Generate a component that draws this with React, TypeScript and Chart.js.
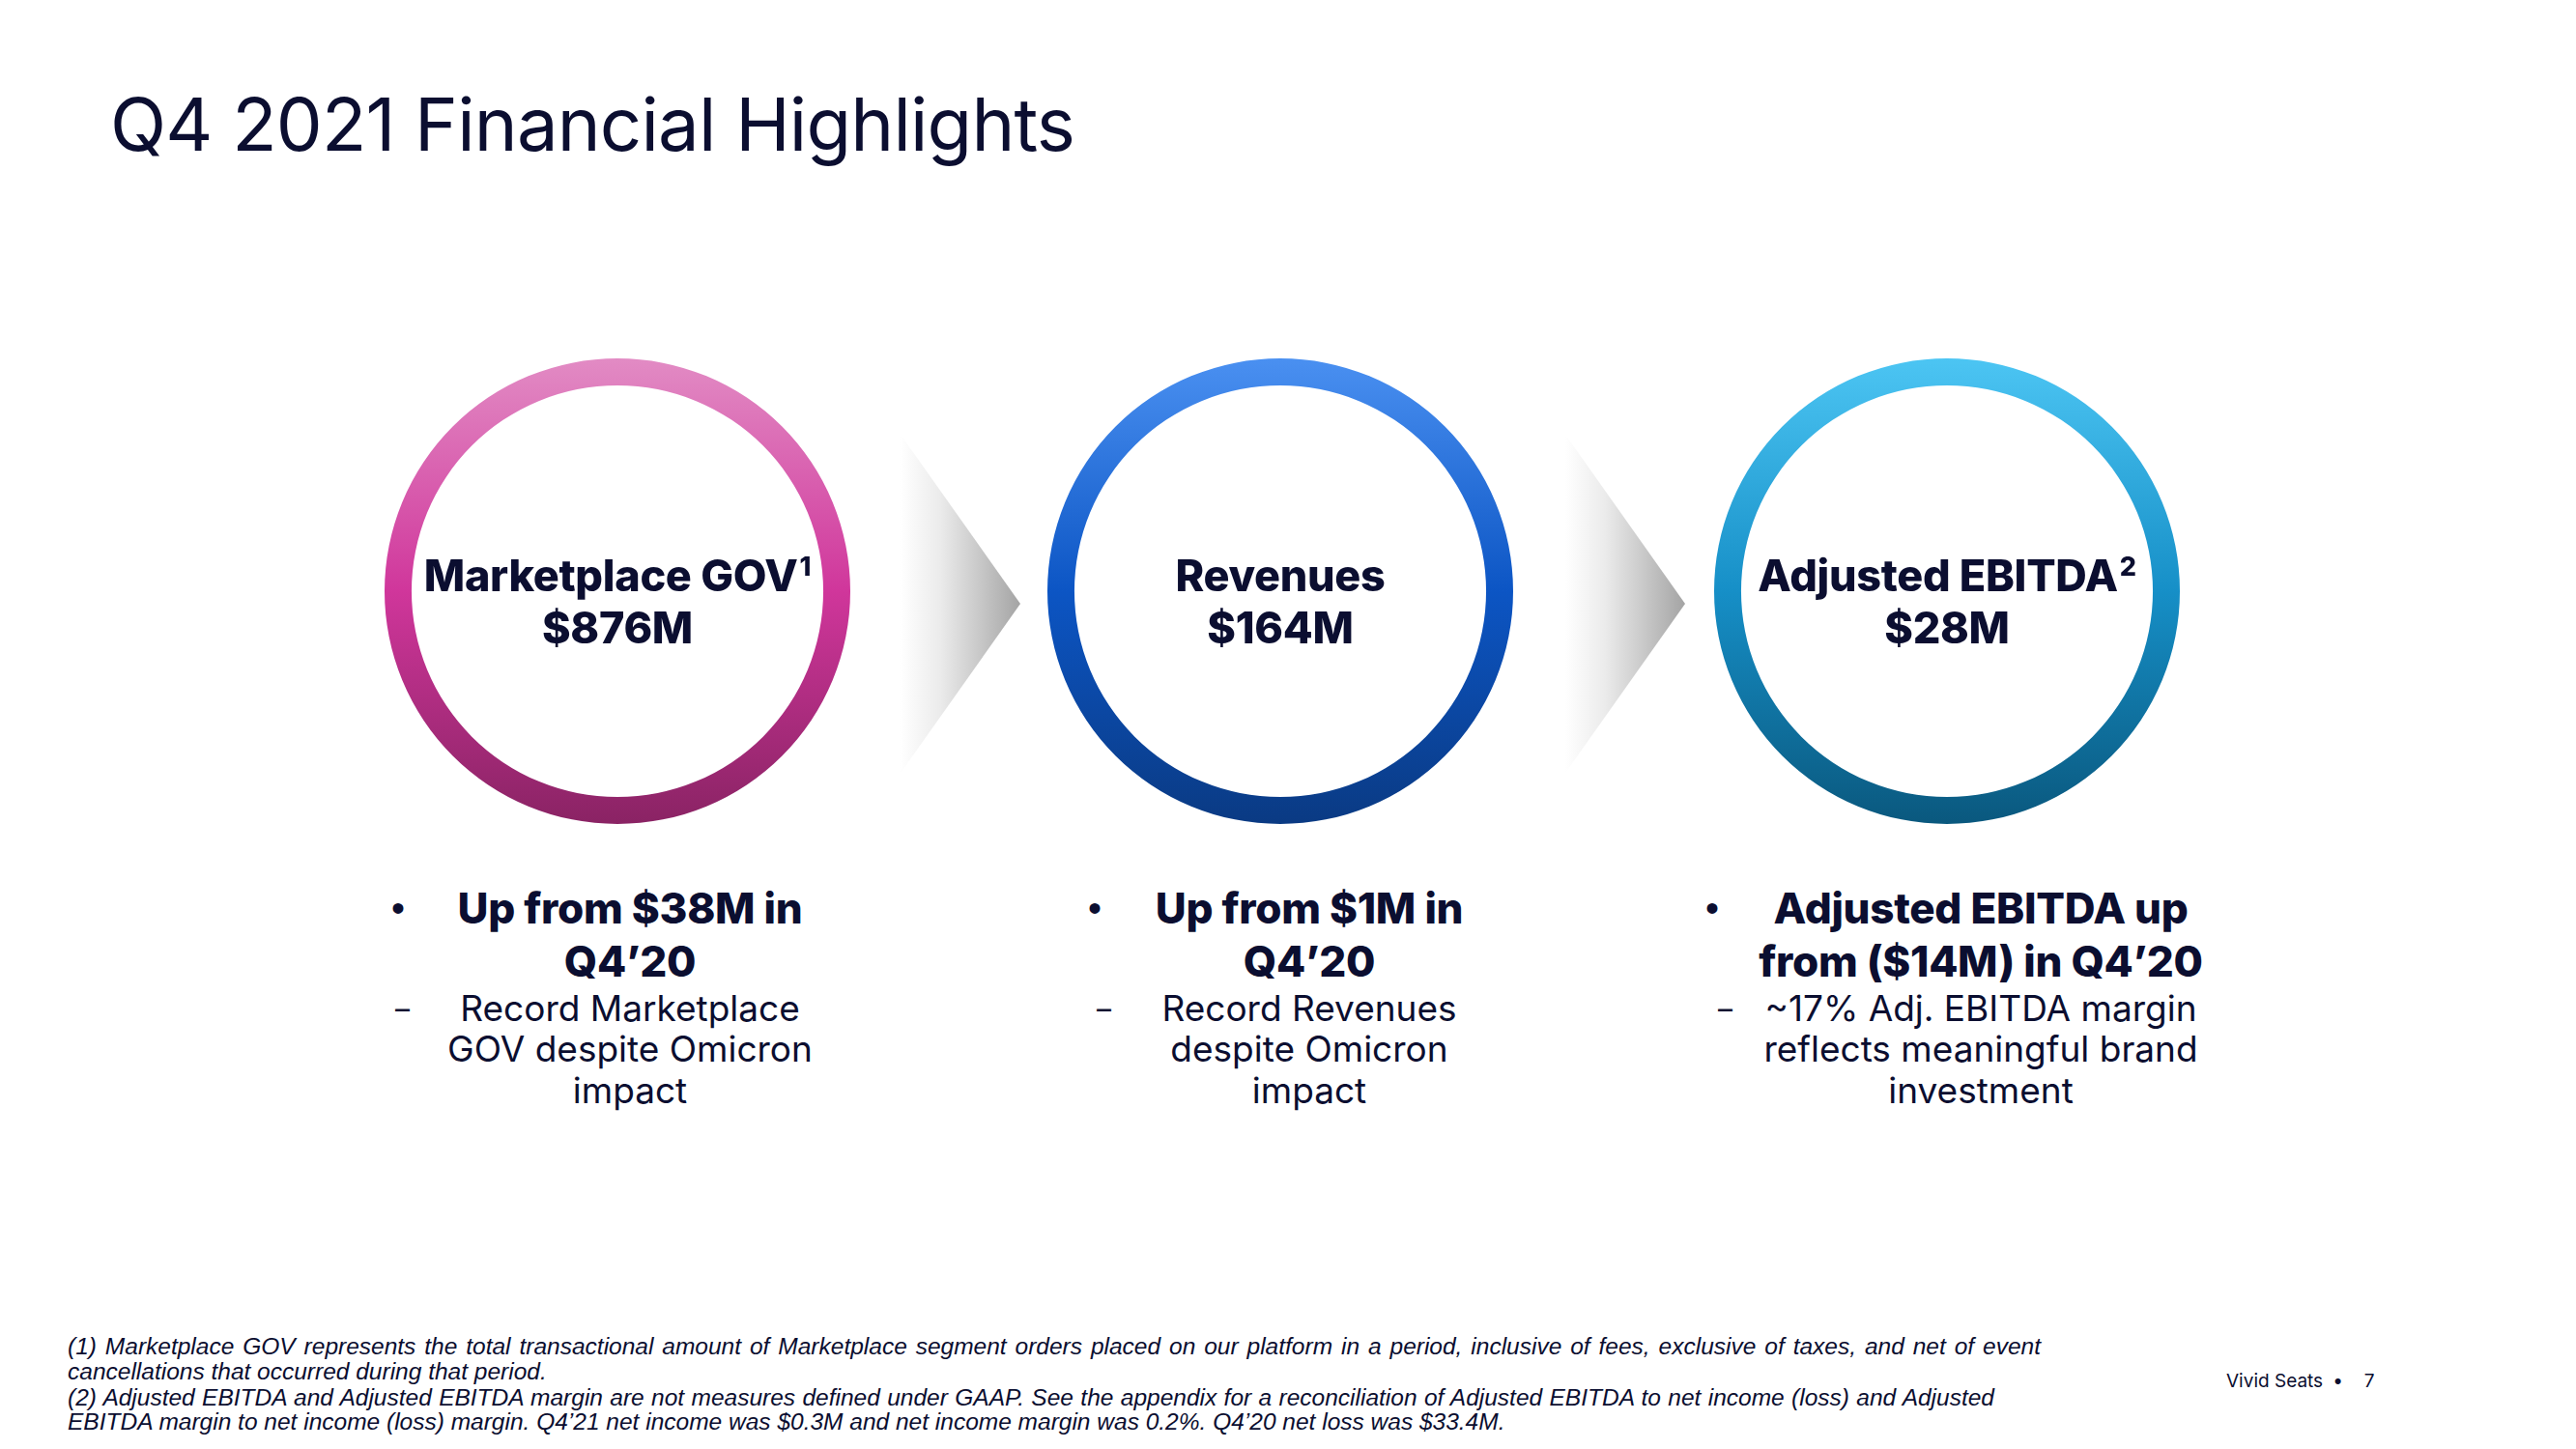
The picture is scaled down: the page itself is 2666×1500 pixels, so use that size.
import React, { useEffect, useRef } from "react";
import { Chart, registerables } from "chart.js";

Chart.register(...registerables);

const titleText = "Q4 2021 Financial Highlights";
const ringLabels = ["Marketplace GOV", "Revenues", "Adjusted EBITDA"];
const ringNotes = ["1", "", "2"];
const ringValues = [876, 164, 28];
const ringValueLabels = ["$876M", "$164M", "$28M"];
const ringGradients = [
  ["#e28bc4", "#d0369b", "#8a2364"],
  ["#4a90f1", "#0c55c4", "#0a3a83"],
  ["#4cc5f3", "#168fc7", "#0a587e"],
];
const bulletHeads = [
  ["Up from $38M in", "Q4’20"],
  ["Up from $1M in", "Q4’20"],
  ["Adjusted EBITDA up", "from ($14M) in Q4’20"],
];
const bulletSubs = [
  ["Record Marketplace", "GOV despite Omicron", "impact"],
  ["Record Revenues", "despite Omicron", "impact"],
  ["~17% Adj. EBITDA margin", "reflects meaningful brand", "investment"],
];
const footnoteLines = [
  "(1) Marketplace GOV represents the total transactional amount of Marketplace segment orders placed on our platform in a period, inclusive of fees, exclusive of taxes, and net of event",
  "cancellations that occurred during that period.",
  "(2) Adjusted EBITDA and Adjusted EBITDA margin are not measures defined under GAAP. See the appendix for a reconciliation of Adjusted EBITDA to net income (loss) and Adjusted",
  "EBITDA margin to net income (loss) margin. Q4’21 net income was $0.3M and net income margin was 0.2%. Q4’20 net loss was $33.4M.",
];
const footerBrand = "Vivid Seats";
const footerPage = "7";

const NAVY = "#0b0e30";
const RING_CX = [639, 1325, 2015];
const RING_CY = 612;
const RING_R = 241;
const COL_CX = [652, 1355, 2050];
const BULLET_X = [417, 1138, 1777];
const DASH_X = [418, 1144, 1787];
const ARROW_X = [918, 1606];
const BOLD_FONT = 'Inter, "Open Sans", sans-serif';
const FOOT_TOPS = [1394, 1420, 1447, 1472];
const FOOT_WIDTHS = [2042, 0, 1994, 0];

function Ring({ idx }: { idx: number }) {
  const ref = useRef<HTMLCanvasElement>(null);
  useEffect(() => {
    if (!ref.current) return;
    const stops = ringGradients[idx];
    const chart = new Chart(ref.current, {
      type: "doughnut",
      data: {
        labels: [ringLabels[idx]],
        datasets: [
          {
            data: [ringValues[idx]],
            borderWidth: 0,
            backgroundColor: (c: any) => {
              const area = c.chart.chartArea;
              if (!area) return stops[1];
              const g = c.chart.ctx.createLinearGradient(0, area.top, 0, area.bottom);
              g.addColorStop(0, stops[0]);
              g.addColorStop(0.5, stops[1]);
              g.addColorStop(1, stops[2]);
              return g;
            },
          },
        ],
      },
      options: {
        animation: false,
        responsive: false,
        cutout: "88.4%",
        events: [],
        layout: { padding: 0 },
        plugins: { legend: { display: false }, tooltip: { enabled: false } },
      },
    });
    return () => chart.destroy();
  }, [idx]);
  const size = RING_R * 2;
  return (
    <canvas
      ref={ref}
      width={size}
      height={size}
      style={{ position: "absolute", left: RING_CX[idx] - RING_R, top: RING_CY - RING_R, width: size, height: size }}
    />
  );
}

export default function App() {
  return (
    <div
      style={{
        position: "absolute",
        left: 0,
        top: 0,
        width: 2666,
        height: 1500,
        background: "#ffffff",
        overflow: "hidden",
        color: NAVY,
        fontFamily: BOLD_FONT,
      }}
    >
      <div
        style={{
          position: "absolute",
          left: 114,
          top: 128 - 50,
          height: 100,
          lineHeight: "100px",
          fontSize: 76,
          fontWeight: 400,
          whiteSpace: "nowrap",
          letterSpacing: -0.8,
        }}
      >
        {titleText}
      </div>

      {ARROW_X.map((x, i) => (
        <div
          key={"a" + i}
          style={{
            position: "absolute",
            left: x,
            top: 430,
            width: 138,
            height: 390,
            clipPath: "polygon(0 0, 100% 50%, 0 100%)",
            background: "linear-gradient(to right, #ffffff 10%, #ebebeb 40%, #a4a4a4 100%)",
          }}
        />
      ))}

      {[0, 1, 2].map((i) => (
        <Ring key={"r" + i} idx={i} />
      ))}

      {[0, 1, 2].map((i) => (
        <div
          key={"t" + i}
          style={{
            position: "absolute",
            left: RING_CX[i] - 240,
            width: 480,
            top: 596 - 27,
            textAlign: "center",
            fontSize: 45,
            fontWeight: 800,
            lineHeight: "54px",
            whiteSpace: "nowrap",
            letterSpacing: -0.3,
          }}
        >
          <div>
            {ringLabels[i]}
            {ringNotes[i] ? (
              <sup style={{ fontSize: 27, lineHeight: 0, verticalAlign: "super", marginLeft: 2 }}>{ringNotes[i]}</sup>
            ) : null}
          </div>
          <div>{ringValueLabels[i]}</div>
        </div>
      ))}

      {[0, 1, 2].map((i) => (
        <React.Fragment key={"b" + i}>
          <div
            style={{ position: "absolute", left: BULLET_X[i] - 12, top: 940 - 24, fontSize: 40, lineHeight: "48px", fontFamily: "Arial, sans-serif" }}
          >
            •
          </div>
          <div
            style={{ position: "absolute", left: DASH_X[i] - 9, top: 1044 - 20, fontSize: 30, lineHeight: "40px" }}
          >
            –
          </div>
          <div
            style={{
              position: "absolute",
              left: COL_CX[i] - 320,
              width: 640,
              top: 940 - 27.5,
              textAlign: "center",
              fontSize: 44,
              fontWeight: 800,
              lineHeight: "55px",
              whiteSpace: "nowrap",
              letterSpacing: -0.3,
            }}
          >
            {bulletHeads[i].map((l, k) => (
              <div key={k}>{l}</div>
            ))}
          </div>
          <div
            style={{
              position: "absolute",
              left: COL_CX[i] - 320,
              width: 640,
              top: 1044 - 21.5,
              textAlign: "center",
              fontSize: 37,
              fontWeight: 400,
              lineHeight: "42.5px",
              whiteSpace: "nowrap",
            }}
          >
            {bulletSubs[i].map((l, k) => (
              <div key={k}>{l}</div>
            ))}
          </div>
        </React.Fragment>
      ))}

      {footnoteLines.map((l, k) => {
        const w = FOOT_WIDTHS[k];
        return (
          <div
            key={"f" + k}
            style={{
              position: "absolute",
              left: 70,
              top: FOOT_TOPS[k] - 13,
              width: w ? w : undefined,
              whiteSpace: "nowrap",
              fontFamily: '"Liberation Sans", Arial, sans-serif',
              fontStyle: "italic",
              fontSize: 24.5,
              lineHeight: "26px",
              textAlign: w ? "justify" : "left",
              textAlignLast: w ? "justify" : "left",
            }}
          >
            {l}
          </div>
        );
      })}

      <div
        style={{
          position: "absolute",
          left: 2304,
          top: 1430 - 14,
          fontSize: 19,
          lineHeight: "28px",
          whiteSpace: "nowrap",
        }}
      >
        {footerBrand}
        <span style={{ margin: "0 16px 0 10px" }}>•</span>
        <span style={{ marginLeft: 6 }}>{footerPage}</span>
      </div>
    </div>
  );
}
